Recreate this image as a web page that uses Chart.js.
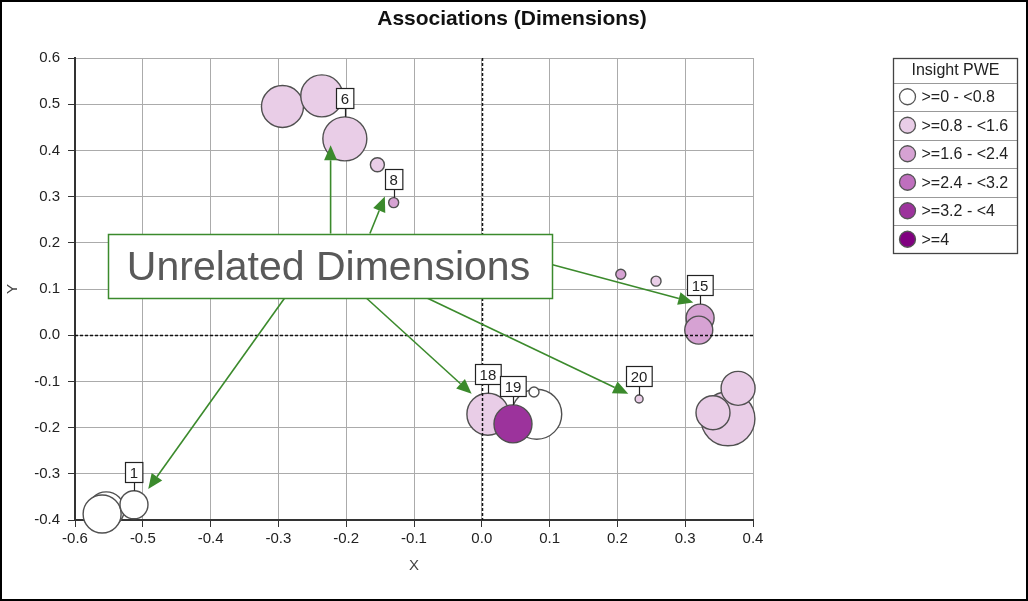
<!DOCTYPE html>
<html>
<head>
<meta charset="utf-8">
<title>Associations (Dimensions)</title>
<script src="https://cdn.jsdelivr.net/npm/chart.js@4.4.0/dist/chart.umd.min.js"></script>
<style>
  html, body { margin: 0; padding: 0; background: #fff; }
  canvas { display: block; }
</style>
</head>
<body>
<canvas id="assocChart" width="1028" height="601"></canvas>
<script>
const pweClasses = ['>=0 - <0.8', '>=0.8 - <1.6', '>=1.6 - <2.4', '>=2.4 - <3.2', '>=3.2 - <4', '>=4'];
const pweColors = ['#ffffff', '#e9cde7', '#d6a2d3', '#bf6fbe', '#9c339c', '#800080'];

// one entry per bubble
const pointX     = [-0.554, -0.560, -0.513, 0.081, 0.077,
                    -0.294, -0.236, -0.202, -0.154, 0.009, 0.232, 0.257, 0.363, 0.378, 0.341,
                    -0.130, 0.205, 0.322, 0.320,
                    0.046];
const pointY     = [-0.378, -0.387, -0.367, -0.171, -0.123,
                    0.495, 0.518, 0.425, 0.369, -0.171, -0.138, 0.117, -0.181, -0.115, -0.168,
                    0.287, 0.132, 0.037, 0.011,
                    -0.192];
const pointSize  = [18, 19, 14, 25, 5,
                    21, 21, 22, 7, 21, 4, 5, 27, 17, 17,
                    5, 5, 14, 14,
                    19];
const pointClass = [0, 0, 0, 0, 0,
                    1, 1, 1, 1, 1, 1, 1, 1, 1, 1,
                    2, 2, 2, 2,
                    4];
const pointTag   = ['', '', '1', '', '',
                    '', '', '6', '', '18', '20', '', '', '', '',
                    '8', '', '15', '',
                    '19'];

const xTicks = [-0.6, -0.5, -0.4, -0.3, -0.2, -0.1, 0.0, 0.1, 0.2, 0.3, 0.4];
const yTicks = [-0.4, -0.3, -0.2, -0.1, 0.0, 0.1, 0.2, 0.3, 0.4, 0.5, 0.6];

const noteText = 'Unrelated Dimensions';
const noteBox = { x0: -0.551, x1: 0.103, y0: 0.080, y1: 0.220 };
// arrows: start x, start y, end x, end y (data units)
const noteArrows = [
  [-0.223, 0.220, -0.223, 0.411],
  [-0.165, 0.220, -0.143, 0.300],
  [-0.291, 0.080, -0.492, -0.333],
  [0.103, 0.153, 0.312, 0.071],
  [-0.170, 0.080, -0.015, -0.127],
  [-0.080, 0.080, 0.216, -0.127]
];

const fmt = v => (Math.abs(v) < 1e-9 ? 0 : v).toFixed(1);

const datasets = pweClasses.map((name, c) => ({
  label: name,
  data: pointX
    .map((x, i) => ({ x: x, y: pointY[i], r: pointSize[i], tag: pointTag[i], cls: pointClass[i] }))
    .filter(p => p.cls === c),
  backgroundColor: pweColors[c],
  borderColor: '#505050',
  borderWidth: 1.4,
  order: pweClasses.length - c,
  clip: false
}));

const decor = {
  id: 'decor',
  afterDatasetsDraw(chart) {
    const ctx = chart.ctx;
    const xs = chart.scales.x, ys = chart.scales.y;
    const area = chart.chartArea;

    // dashed zero lines
    ctx.save();
    ctx.strokeStyle = '#111';
    ctx.lineWidth = 1.5;
    ctx.setLineDash([3, 2]);
    const x0 = Math.round(xs.getPixelForValue(0)) + 0.5;
    const y0 = Math.round(ys.getPixelForValue(0)) + 0.5;
    ctx.beginPath();
    ctx.moveTo(x0, area.top); ctx.lineTo(x0, area.bottom);
    ctx.moveTo(area.left, y0); ctx.lineTo(area.right, y0);
    ctx.stroke();
    ctx.restore();

    // point tags
    ctx.save();
    ctx.font = '15px "Liberation Sans", Arial, sans-serif';
    ctx.textAlign = 'center';
    ctx.textBaseline = 'middle';
    const metas = chart.getSortedVisibleDatasetMetas();
    for (let m = metas.length - 1; m >= 0; m--) {
      const meta = metas[m];
      const ds = chart.data.datasets[meta.index];
      meta.data.forEach((el, i) => {
        const tag = ds.data[i].tag;
        if (!tag) return;
        const r = el.options.radius;
        const top = el.y - r;
        const w = ctx.measureText(tag).width + 9;
        const h = 20;
        const bx = Math.round(el.x - w / 2) + 0.5;
        const by = Math.round(top - 9 - h) + 0.5;
        ctx.strokeStyle = '#222';
        ctx.lineWidth = 1.2;
        ctx.beginPath();
        ctx.moveTo(Math.round(el.x) + 0.5, by + h);
        ctx.lineTo(Math.round(el.x) + 0.5, top);
        ctx.stroke();
        ctx.fillStyle = '#fff';
        ctx.fillRect(bx, by, w, h);
        ctx.strokeRect(bx, by, w, h);
        ctx.fillStyle = '#222';
        ctx.fillText(tag, el.x, by + h / 2 + 1);
      });
    }
    ctx.restore();

    // annotation arrows
    ctx.save();
    ctx.strokeStyle = '#3b8a2c';
    ctx.fillStyle = '#3b8a2c';
    ctx.lineWidth = 1.6;
    noteArrows.forEach(a => {
      const sx = xs.getPixelForValue(a[0]), sy = ys.getPixelForValue(a[1]);
      const ex = xs.getPixelForValue(a[2]), ey = ys.getPixelForValue(a[3]);
      const ang = Math.atan2(ey - sy, ex - sx);
      const len = 15, half = 6.5;
      const bx = ex - len * Math.cos(ang), by = ey - len * Math.sin(ang);
      ctx.beginPath();
      ctx.moveTo(sx, sy); ctx.lineTo(bx, by);
      ctx.stroke();
      ctx.beginPath();
      ctx.moveTo(ex, ey);
      ctx.lineTo(bx + half * Math.sin(ang), by - half * Math.cos(ang));
      ctx.lineTo(bx - half * Math.sin(ang), by + half * Math.cos(ang));
      ctx.closePath();
      ctx.fill();
    });
    // annotation box
    const l = Math.round(xs.getPixelForValue(noteBox.x0)) + 0.5;
    const r = Math.round(xs.getPixelForValue(noteBox.x1)) + 0.5;
    const t = Math.round(ys.getPixelForValue(noteBox.y1)) + 0.5;
    const b = Math.round(ys.getPixelForValue(noteBox.y0)) + 0.5;
    ctx.fillStyle = '#fff';
    ctx.fillRect(l, t, r - l, b - t);
    ctx.lineWidth = 1.5;
    ctx.strokeRect(l, t, r - l, b - t);
    ctx.fillStyle = '#595959';
    ctx.font = '41px "Liberation Sans", Arial, sans-serif';
    ctx.textAlign = 'center';
    ctx.textBaseline = 'middle';
    ctx.fillText(noteText, (l + r) / 2 - 2, (t + b) / 2 + 2);
    ctx.restore();
  },
  afterDraw(chart) {
    const ctx = chart.ctx;
    ctx.save();
    // title
    ctx.fillStyle = '#111';
    ctx.font = 'bold 21px "Liberation Sans", Arial, sans-serif';
    ctx.textAlign = 'center';
    ctx.textBaseline = 'middle';
    ctx.fillText('Associations (Dimensions)', 512, 19);

    // legend
    const lx = 893.5, ly = 58.5, lw = 124, titleH = 24, rowH = 28.5;
    const lh = titleH + rowH * pweClasses.length;
    ctx.fillStyle = '#fff';
    ctx.fillRect(lx, ly, lw, lh);
    ctx.strokeStyle = '#999';
    ctx.lineWidth = 1;
    for (let i = 0; i < pweClasses.length; i++) {
      const yy = Math.round(ly + titleH + rowH * i) + 0.5;
      ctx.beginPath();
      ctx.moveTo(lx, yy); ctx.lineTo(lx + lw, yy);
      ctx.stroke();
    }
    ctx.strokeStyle = '#444';
    ctx.lineWidth = 1.3;
    ctx.strokeRect(lx, ly, lw, lh);
    ctx.fillStyle = '#222';
    ctx.font = '16px "Liberation Sans", Arial, sans-serif';
    ctx.textAlign = 'center';
    ctx.fillText('Insight PWE', lx + lw / 2, ly + titleH / 2);
    ctx.textAlign = 'left';
    pweClasses.forEach((name, i) => {
      const cy = ly + titleH + rowH * i + rowH / 2;
      ctx.beginPath();
      ctx.arc(lx + 14, cy, 8, 0, Math.PI * 2);
      ctx.fillStyle = pweColors[i];
      ctx.fill();
      ctx.strokeStyle = '#555';
      ctx.lineWidth = 1.3;
      ctx.stroke();
      ctx.fillStyle = '#222';
      ctx.fillText(name, lx + 28, cy + 1);
    });

    // outer frame
    ctx.strokeStyle = '#000';
    ctx.lineWidth = 2;
    ctx.strokeRect(1, 1, chart.width - 2, chart.height - 2);
    ctx.restore();
  }
};

const tickFont = { family: '"Liberation Sans", Arial, sans-serif', size: 15 };

new Chart(document.getElementById('assocChart').getContext('2d'), {
  type: 'bubble',
  data: { datasets: datasets },
  options: {
    responsive: false,
    animation: false,
    events: [],
    layout: { padding: { left: 0, top: 58, right: 275, bottom: 0 } },
    plugins: {
      legend: { display: false },
      title: { display: false },
      tooltip: { enabled: false }
    },
    scales: {
      x: {
        type: 'linear',
        min: -0.6,
        max: 0.4,
        afterBuildTicks: s => { s.ticks = xTicks.map(v => ({ value: v })); },
        afterFit: s => { s.height = 81; },
        ticks: { callback: v => fmt(v), color: '#222', font: tickFont, padding: 3, maxRotation: 0, autoSkip: false },
        grid: { color: '#ababab', lineWidth: 1, tickColor: '#333', tickLength: 7 },
        border: { color: '#333', width: 2 },
        title: { display: true, text: 'X', color: '#444', font: { family: tickFont.family, size: 15 }, padding: { top: 0, bottom: 26 } }
      },
      y: {
        type: 'linear',
        min: -0.4,
        max: 0.6,
        afterBuildTicks: s => { s.ticks = yTicks.map(v => ({ value: v })); },
        afterFit: s => { s.width = 75; },
        ticks: { callback: v => fmt(v), color: '#222', font: tickFont, padding: 8, autoSkip: false },
        grid: { color: '#ababab', lineWidth: 1, tickColor: '#333', tickLength: 7 },
        border: { color: '#333', width: 2 },
        title: { display: true, text: 'Y', color: '#444', font: { family: tickFont.family, size: 15 }, padding: { top: 4, bottom: 0 } }
      }
    }
  },
  plugins: [decor]
});
</script>
</body>
</html>
